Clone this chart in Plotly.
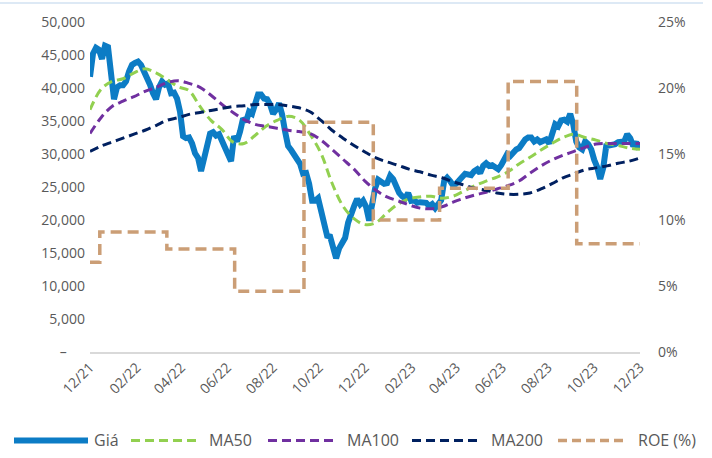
import pandas as pd
import plotly.graph_objects as go

# ---- data -------------------------------------------------------------
PRICE_START, PRICE_END = "2021-12-01", "2023-11-30"
price = [
    41700, 45200, 46100, 45800, 44400, 46400, 46200, 42900, 38300, 40100,
    40400, 40400, 41000, 42500, 43500, 43800, 44000, 43500, 42600, 41700,
    40500, 39200, 38300, 40100, 41000, 40500, 40700, 39200, 39300, 38400,
    36400, 32700, 32400, 32500, 31600, 30100, 29400, 27400, 29200, 31200,
    33100, 33300, 32800, 33000, 32100, 31200, 30100, 28900, 32700, 31900,
    33400, 35400, 34900, 36400, 36100, 37500, 39000, 39000, 38400, 38300,
    37500, 36100, 36700, 37700, 36000, 33400, 31200, 30600, 30000, 29400,
    28500, 27000, 27100, 25500, 22900, 22900, 23300, 21400, 19000, 17600,
    17500, 15700, 14200, 15700, 16400, 17300, 19600, 21200, 22100, 23200,
    22400, 22900, 22000, 19900, 22400, 24800, 26100, 25900, 25500, 25600,
    26700, 26200, 24800, 24100, 23600, 23300, 24100, 22900, 23000, 22600,
    22700, 22600, 22600, 22100, 22400, 21800, 22400, 23000, 25900, 26400,
    25900, 25200, 25500, 25900, 26500, 27000, 27000, 26800, 27400, 27700,
    27100, 28200, 28600, 28200, 28300, 28000, 27700, 28300, 29200, 30000,
    29700, 30400, 30700, 30900, 31800, 32200, 32500, 32500, 31900, 32200,
    31800, 32100, 32200, 31600, 33400, 34500, 34200, 35100, 35200, 34900,
    36100, 34500, 31900, 31000, 30700, 31900, 31500, 30700, 29100, 28000,
    26200, 27900, 31200, 31300, 31200, 31500, 31800, 31800, 31900, 33000,
    32400, 31200, 31800, 30700,
]

MA_START, MA_END = "2021-12-01", "2023-12-01"
ma50 = [
    36700, 39800, 41000, 41400, 42300, 42900, 42300, 41300, 40200, 39600,
    37200, 35100, 33700, 31800, 31600, 32800, 34200, 35100, 35700, 35200,
    33000, 30100, 25600, 22100, 20200, 19300, 19600, 21100, 22400, 23200,
    23500, 23600, 23300, 23600, 24400, 25200, 25900, 26500, 27300, 28500,
    29500, 30600, 31600, 32500, 33000, 32500, 32100, 31600, 31300, 30900,
    30700,
]
ma100 = [
    33100, 35500, 37200, 38000, 38700, 39500, 40100, 40800, 41100, 40700,
    40100, 38900, 37500, 36300, 35200, 34500, 34200, 33900, 33600, 33400,
    33100, 32100, 30700, 29200, 27700, 25900, 24500, 23500, 22900, 22300,
    21800, 21700, 22000, 22700, 23300, 23800, 24200, 24700, 25200, 25900,
    27100, 28200, 29100, 29800, 30400, 31000, 31500, 31600, 31600, 31600,
    31600,
]
ma200 = [
    30400, 31200, 31800, 32400, 33000, 33600, 34300, 35100, 35500, 36000,
    36300, 36600, 36900, 37200, 37300, 37500, 37500, 37500, 37300, 37000,
    36400, 35100, 33600, 32400, 31300, 30300, 29400, 28800, 28300, 27700,
    27300, 26800, 26400, 25800, 25300, 24800, 24500, 24100, 23900, 23900,
    24100, 24700, 25500, 26400, 27000, 27600, 27900, 28200, 28600, 28900,
    29400,
]

roe_dates = ["2021-12-01", "2021-12-14", "2022-03-13", "2022-06-11", "2022-09-11",
             "2022-12-12", "2023-03-10", "2023-06-09", "2023-09-08", "2023-12-01"]
roe = [6.8, 9.1, 7.8, 4.6, 17.4, 10.0, 12.4, 20.5, 8.2, 8.2]

tick_dates = ["2021-12-01", "2022-02-01", "2022-04-01", "2022-06-01", "2022-08-01",
              "2022-10-01", "2022-12-01", "2023-02-01", "2023-04-01", "2023-06-01",
              "2023-08-01", "2023-10-01", "2023-12-01"]
tick_labels = ["12/21", "02/22", "04/22", "06/22", "08/22", "10/22", "12/22",
               "02/23", "04/23", "06/23", "08/23", "10/23", "12/23"]
y_ticks = [0, 5000, 10000, 15000, 20000, 25000, 30000, 35000, 40000, 45000, 50000]
y_labels = ["\u2013" + "\u00a0" * 5, "5,000", "10,000", "15,000", "20,000", "25,000",
            "30,000", "35,000", "40,000", "45,000", "50,000"]
y2_ticks = [0, 5, 10, 15, 20, 25]
y2_labels = ["0%", "5%", "10%", "15%", "20%", "25%"]

# ---- styles -----------------------------------------------------------
C_PRICE = "#0C7CC5"
C_MA50 = "#92D050"
C_MA100 = "#7030A0"
C_MA200 = "#002060"
C_ROE = "#CB9E76"
TXT = "#595959"
FONT = "Open Sans"

price_dates = pd.date_range(PRICE_START, PRICE_END, periods=len(price))
ma_dates = pd.date_range(MA_START, MA_END, periods=len(ma50))

fig = go.Figure()
fig.add_trace(go.Scatter(x=price_dates, y=price, mode="lines", name="Giá",
                         line=dict(color=C_PRICE, width=6)))
fig.add_trace(go.Scatter(x=ma_dates, y=ma50, mode="lines", name="MA50",
                         line=dict(color=C_MA50, width=3, dash="9px,5px", shape="spline")))
fig.add_trace(go.Scatter(x=ma_dates, y=ma100, mode="lines", name="MA100",
                         line=dict(color=C_MA100, width=3, dash="9px,5px", shape="spline")))
fig.add_trace(go.Scatter(x=ma_dates, y=ma200, mode="lines", name="MA200",
                         line=dict(color=C_MA200, width=3, dash="9px,5px", shape="spline")))
fig.add_trace(go.Scatter(x=roe_dates, y=roe, mode="lines", name="ROE (%)", yaxis="y2",
                         line=dict(color=C_ROE, width=3.5, dash="11px,6px", shape="hv")))

# ---- hand-built legend row beneath the plot ----------------------------
L, W, T, H = 90, 550, 20, 332          # plot area in pixels


def px_x(p):
    return (p - L) / W


def px_y(p):
    return (T + H - p) / H


legend_items = [
    ("Giá", C_PRICE, "solid", 6, 14, 88, 92),
    ("MA50", C_MA50, "9px,5px", 3, 131, 200, 207),
    ("MA100", C_MA100, "9px,5px", 3, 268, 337, 345),
    ("MA200", C_MA200, "9px,5px", 3, 412, 482, 489),
    ("ROE (%)", C_ROE, "9px,5px", 3.5, 558, 628, 636),
]
shapes = []
annotations = []
LEG_Y = 441
for name, col, dash, w, x0, x1, tx in legend_items:
    shapes.append(dict(type="line", xref="paper", yref="paper",
                       x0=px_x(x0), x1=px_x(x1), y0=px_y(LEG_Y), y1=px_y(LEG_Y),
                       line=dict(color=col, width=w, dash=dash)))
    annotations.append(dict(text=name, xref="paper", yref="paper", x=px_x(tx),
                            y=px_y(LEG_Y), xanchor="left", yanchor="middle",
                            showarrow=False, font=dict(family=FONT, size=16, color=TXT)))

# thin pale band along the top edge of the frame
shapes.append(dict(type="rect", xref="paper", yref="paper", x0=px_x(0), x1=px_x(703),
                   y0=px_y(2), y1=px_y(0), line=dict(width=0), fillcolor="#DDE9F5"))

fig.update_layout(
    width=712, height=458,
    margin=dict(l=L, r=712 - L - W, t=T, b=458 - T - H),
    paper_bgcolor="white", plot_bgcolor="white",
    showlegend=False,
    font=dict(family=FONT, size=14, color=TXT),
    xaxis=dict(type="date", range=["2021-12-01", "2023-12-01"], tickvals=tick_dates,
               ticktext=tick_labels, tickangle=-45, showgrid=False, zeroline=False,
               showline=True, linecolor="#D9D9D9", linewidth=1.5, ticks="",
               tickfont=dict(size=14, color=TXT)),
    yaxis=dict(range=[0, 50000], tickvals=y_ticks, ticktext=y_labels, showgrid=False,
               zeroline=False, showline=False, ticks="", ticklabelstandoff=4,
               tickfont=dict(size=14, color=TXT)),
    yaxis2=dict(range=[0, 25], tickvals=y2_ticks, ticktext=y2_labels, overlaying="y",
                side="right", showgrid=False, zeroline=False, showline=False, ticks="",
                ticklabelstandoff=17, tickfont=dict(size=14, color=TXT)),
    shapes=shapes,
    annotations=annotations,
)

fig.write_html("out.html")
